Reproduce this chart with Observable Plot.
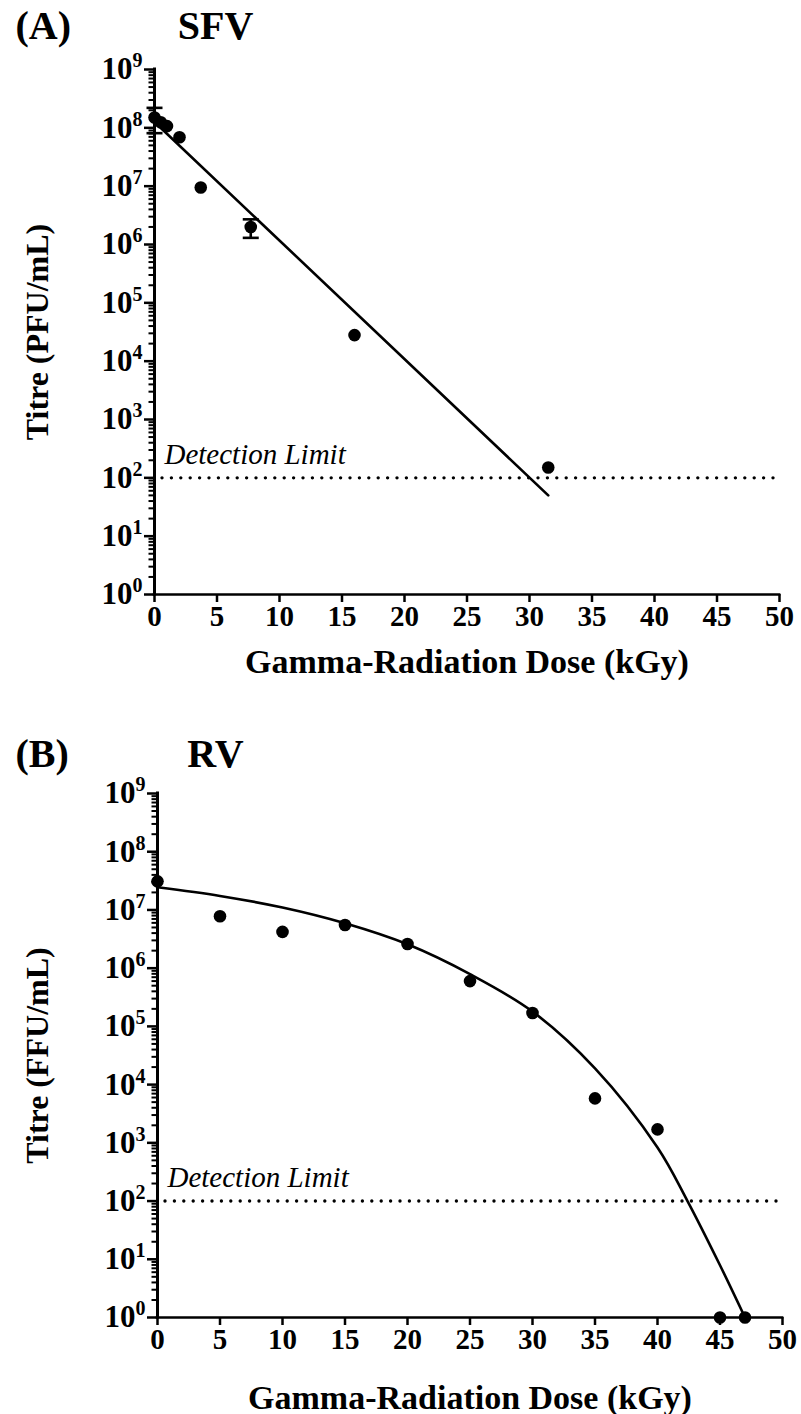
<!DOCTYPE html>
<html>
<head>
<meta charset="utf-8">
<script src="https://cdn.jsdelivr.net/npm/d3@7"></script>
<script src="https://cdn.jsdelivr.net/npm/@observablehq/plot@0.6"></script>
<style>
  html, body { margin: 0; padding: 0; background: #fff; }
  #chart { width: 801px; }
  svg { display: block; }
</style>
</head>
<body>
<div id="chart"></div>
<script>
// ---------- data ----------
const xTicks = [0, 5, 10, 15, 20, 25, 30, 35, 40, 45, 50];
const yTicks = [1, 10, 100, 1e3, 1e4, 1e5, 1e6, 1e7, 1e8, 1e9];
const detectionLimit = 100;

// Panel A: SFV
const sfvDose  = [0, 0.5, 1, 2, 3.7, 7.7, 16, 31.5];
const sfvTitre = [1.5e8, 1.25e8, 1.07e8, 6.9e7, 9.5e6, 2.0e6, 2.8e4, 150];
const sfvErrDose = [0, 7.7];
const sfvErrLow  = [8.1e7, 1.3e6];
const sfvErrHigh = [2.2e8, 2.7e6];
const sfvFitDose  = [0, 31.5];
const sfvFitTitre = [1.26e8, 50];

// Panel B: RV
const rvDose  = [0, 5, 10, 15, 20, 25, 30, 35, 40, 45, 47];
const rvTitre = [3.1e7, 7.8e6, 4.2e6, 5.5e6, 2.6e6, 6.0e5, 1.7e5, 5.8e3, 1.7e3, 1, 1];
const rvFitDose  = [0, 5, 10, 15, 20, 25, 30, 35, 40, 42.4, 45, 47];
const rvFitTitre = [2.45e7, 1.74e7, 1.1e7, 5.9e6, 2.57e6, 7.9e5, 1.8e5, 1.9e4, 830, 100, 7.9, 1];

// ---------- helpers ----------
const zip = (xs, ys) => xs.map((x, i) => ({x, y: ys[i]}));
const minorTicks = [];
for (let e = 0; e < 9; e++) for (let m = 2; m <= 9; m++) minorTicks.push(m * 10 ** e);

const capSymbol = {
  draw(ctx, size) {
    const r = Math.sqrt(size / Math.PI);
    ctx.moveTo(-r, 0);
    ctx.lineTo(r, 0);
  }
};

const FONT = '"Liberation Serif", "Times New Roman", Times, serif';

function superscripts(svg) {
  const ns = "http://www.w3.org/2000/svg";
  svg.querySelectorAll('g[aria-label="y-axis tick label"] text').forEach(t => {
    const e = t.textContent;
    if (!e) return;
    t.textContent = "";
    const a = document.createElementNS(ns, "tspan");
    a.textContent = "10";
    const b = document.createElementNS(ns, "tspan");
    b.textContent = e;
    b.setAttribute("dy", "-12");
    b.setAttribute("font-size", "20");
    t.append(a, b);
  });
}

function panel({letter, name, ylabel, points, fit, fitCurve, errors, height, marginTop, marginBottom, marginLeft, marginRight, xTitleDy, titleY}) {
  const marks = [
    // detection limit
    Plot.ruleY([detectionLimit], {x1: 0, x2: 50, stroke: "black", strokeWidth: 3.4,
      strokeDasharray: "0 9.4", strokeLinecap: "round", strokeDashoffset: -8}),
    Plot.text(["Detection Limit"], {x: 0, y: detectionLimit, text: d => d, dx: 10, dy: -23,
      textAnchor: "start", lineAnchor: "middle", fontSize: 29, fontStyle: "italic", fontWeight: "normal"}),
    // axes
    Plot.axisY(minorTicks, {tickSize: 5.5, strokeWidth: 2, tickFormat: () => "", label: null}),
    Plot.axisY(yTicks, {tickSize: 10, strokeWidth: 2.5, tickPadding: 2,
      tickFormat: d => String(Math.round(Math.log10(d))), fontSize: 31, fontWeight: "bold", label: null}),
    Plot.axisX(xTicks, {tickSize: 8, strokeWidth: 2.5, tickPadding: 3, fontSize: 29, fontWeight: "bold", label: null}),
    Plot.ruleX([0], {y1: 1, y2: 1e9, stroke: "black", strokeWidth: 3, strokeLinecap: "square"}),
    Plot.ruleY([1], {x1: 0, x2: 50, stroke: "black", strokeWidth: 2.7, strokeLinecap: "square"}),
    // fit line
    Plot.line(fit, {x: "x", y: "y", stroke: "black", strokeWidth: 2.6, curve: fitCurve}),
  ];
  if (errors) {
    marks.push(
      Plot.ruleX(errors, {x: "x", y1: "lo", y2: "hi", stroke: "black", strokeWidth: 2.6}),
      Plot.dot(errors, {x: "x", y: "lo", r: 8, symbol: capSymbol, stroke: "black", strokeWidth: 2.6, fill: "none"}),
      Plot.dot(errors, {x: "x", y: "hi", r: 8, symbol: capSymbol, stroke: "black", strokeWidth: 2.6, fill: "none"})
    );
  }
  marks.push(
    Plot.dot(points, {x: "x", y: "y", r: 6.3, fill: "black", stroke: "none"}),
    // titles
    Plot.text([letter], {frameAnchor: "top-left", text: d => d, dx: 15 - marginLeft, dy: titleY - marginTop,
      textAnchor: "start", lineAnchor: "middle", fontSize: 40, fontWeight: "bold"}),
    Plot.text([name], {frameAnchor: "top-left", text: d => d, dx: 215 - marginLeft, dy: titleY - marginTop,
      textAnchor: "middle", lineAnchor: "middle", fontSize: 40, fontWeight: "bold"}),
    Plot.text([ylabel], {frameAnchor: "left", text: d => d, dx: 37 - marginLeft, rotate: -90,
      textAnchor: "middle", lineAnchor: "middle", fontSize: 32, fontWeight: "bold"}),
    Plot.text(["Gamma-Radiation Dose (kGy)"], {frameAnchor: "bottom", text: d => d, dy: xTitleDy,
      textAnchor: "middle", lineAnchor: "middle", fontSize: 34, fontWeight: "bold"})
  );
  const svg = Plot.plot({
    width: 801, height, marginTop, marginBottom, marginLeft, marginRight,
    style: {fontFamily: FONT, color: "black", background: "white", overflow: "visible"},
    x: {domain: [0, 50], axis: null},
    y: {type: "log", domain: [1, 1e9], axis: null},
    marks
  });
  superscripts(svg);
  return svg;
}

const chart = document.getElementById("chart");

chart.append(panel({
  letter: "(A)", name: "SFV", ylabel: "Titre (PFU/mL)",
  points: zip(sfvDose, sfvTitre),
  fit: zip(sfvFitDose, sfvFitTitre), fitCurve: "linear",
  errors: sfvErrDose.map((x, i) => ({x, lo: sfvErrLow[i], hi: sfvErrHigh[i]})),
  height: 700, marginTop: 69, marginBottom: 106, marginLeft: 154, marginRight: 22, xTitleDy: 68, titleY: 26
}));

chart.append(panel({
  letter: "(B)", name: "RV", ylabel: "Titre (FFU/mL)",
  points: zip(rvDose, rvTitre),
  fit: zip(rvFitDose, rvFitTitre), fitCurve: "catmull-rom",
  errors: null,
  height: 714, marginTop: 93, marginBottom: 97, marginLeft: 157, marginRight: 19, xTitleDy: 81, titleY: 54
}));
</script>
</body>
</html>
